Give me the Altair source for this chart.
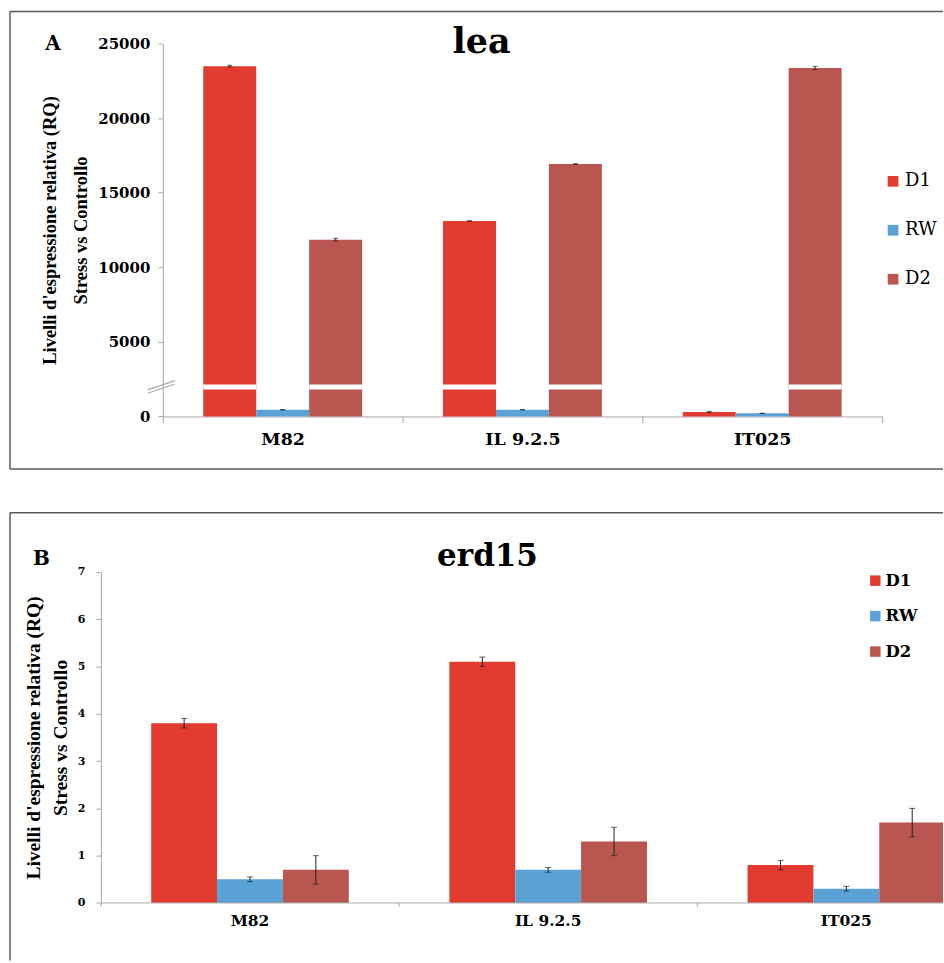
import altair as alt
import pandas as pd

# ---- data -------------------------------------------------------------
groups = ["M82", "IL 9.2.5", "IT025"]
conditions = ["D1", "RW", "D2"]
colors = ["#E23B30", "#5AA2D6", "#B9564F"]

# lea expression (RQ), one value per genotype
lea_d1 = [23480, 13100, 300]
lea_rw = [450, 450, 210]
lea_d2 = [11850, 16920, 23350]
lea_d1_err = [60, 15, 40]
lea_rw_err = [10, 10, 10]
lea_d2_err = [90, 15, 110]
lea_ticks = [0, 5000, 10000, 15000, 20000, 25000]

# erd15 expression (RQ)
erd_d1 = [3.8, 5.1, 0.8]
erd_rw = [0.5, 0.7, 0.3]
erd_d2 = [0.7, 1.3, 1.7]
erd_d1_err = [0.1, 0.1, 0.1]
erd_rw_err = [0.05, 0.05, 0.05]
erd_d2_err = [0.3, 0.3, 0.3]
erd_ticks = [0, 1, 2, 3, 4, 5, 6, 7]

# broken-axis band on the lea scale
break_lo, break_hi = 1810, 2140

y_title = ["Livelli d'espressione relativa (RQ)", "Stress vs Controllo"]

WIDE_SERIF = "DejaVu Serif"
SERIF = "Liberation Serif"
AXIS_GREY = "#a8a8a8"
FRAME = "#5a5a5a"
INK = "#222222"


def long_table(d1, rw, d2, e1, e2, e3):
    rows = []
    for cond, vals, errs in zip(conditions, [d1, rw, d2], [e1, e2, e3]):
        for g, v, e in zip(groups, vals, errs):
            rows.append({"group": g, "cond": cond, "value": v, "err": e,
                         "lo": v - e, "hi": v + e})
    return pd.DataFrame(rows)


lea_df = long_table(lea_d1, lea_rw, lea_d2, lea_d1_err, lea_rw_err, lea_d2_err)
erd_df = long_table(erd_d1, erd_rw, erd_d2, erd_d1_err, erd_rw_err, erd_d2_err)


def one_row(**kw):
    if kw:
        return alt.Chart(pd.DataFrame({k: [v] for k, v in kw.items()}))
    return alt.Chart(pd.DataFrame({"k": [0]}))


def label(text, x, y, size):
    return one_row(t=text).mark_text(
        font=WIDE_SERIF, fontSize=size, fontWeight="bold", color="black",
        align="center", baseline="alphabetic").encode(
        x=alt.value(x), y=alt.value(y), text="t:N")


def hline(x0, x1, y, color=FRAME, w=1.5):
    return one_row().mark_rule(color=color, strokeWidth=w).encode(
        x=alt.value(x0), x2=alt.value(x1), y=alt.value(y))


def vline(x, y0, y1, color=FRAME, w=1.5):
    return one_row().mark_rule(color=color, strokeWidth=w).encode(
        x=alt.value(x), y=alt.value(y0), y2=alt.value(y1))


def encoders(ticks, ymax, height, x_font, y_font, y_title_size, title_x, line_h,
             label_pad_x, label_pad_y, draw_x_axis, x_range, y_offset=0):
    if draw_x_axis:
        x_axis = alt.Axis(title=None, labelAngle=0, grid=False, tickBand="extent",
                          domainColor=AXIS_GREY, tickColor=AXIS_GREY, tickSize=6,
                          labelFont=WIDE_SERIF, labelFontSize=x_font,
                          labelFontWeight="bold", labelColor="black",
                          labelPadding=label_pad_x)
    else:
        x_axis = None
    x_scale = alt.Scale(domain=groups, paddingInner=0, paddingOuter=0, range=x_range)

    def x_enc(band_pos=None):
        kw = dict(sort=groups, scale=x_scale, axis=x_axis)
        if band_pos is not None:
            kw["bandPosition"] = band_pos
        return alt.X("group:N", **kw)

    xo_enc = alt.XOffset(
        "cond:N", sort=conditions,
        scale=alt.Scale(domain=conditions, paddingInner=0, paddingOuter=0.764),
    )
    y_axis = alt.Axis(values=ticks, format="d", grid=False, title=y_title,
                      offset=y_offset,
                      titleFont=SERIF, titleFontSize=y_title_size, titleFontWeight="bold",
                      titleColor="black", titleLineHeight=line_h, titleAngle=-90,
                      titleX=title_x, titleY=height / 2, titleAlign="center",
                      titleBaseline="middle",
                      domainColor=AXIS_GREY, tickColor=AXIS_GREY, tickSize=5,
                      labelFont=WIDE_SERIF, labelFontSize=y_font, labelFontWeight="bold",
                      labelColor="black", labelPadding=label_pad_y)
    y_scale = alt.Scale(domain=[0, ymax], nice=False, zero=True)

    def y_enc(field):
        return alt.Y(field, scale=y_scale, axis=y_axis)

    return x_enc, xo_enc, y_enc


def bar_layers(df, x_enc, xo_enc, y_enc, legend, cap, clip=False):
    base = alt.Chart(df)
    bars = base.mark_bar(clip=clip).encode(
        x=x_enc(), xOffset=xo_enc, y=y_enc("value:Q"),
        color=alt.Color("cond:N", sort=conditions,
                        scale=alt.Scale(domain=conditions, range=colors),
                        legend=legend),
    )
    err = base.mark_rule(color=INK, strokeWidth=1).encode(
        x=x_enc(), xOffset=xo_enc, y=y_enc("lo:Q"), y2="hi:Q")
    cap_lo = base.mark_tick(color=INK, thickness=1, size=cap).encode(
        x=x_enc(), xOffset=xo_enc, y=y_enc("lo:Q"))
    cap_hi = base.mark_tick(color=INK, thickness=1, size=cap).encode(
        x=x_enc(), xOffset=xo_enc, y=y_enc("hi:Q"))
    return [bars, err, cap_lo, cap_hi]


# Both panels share the same left plot edge; the lea axis sits further in.
LEFT = -91          # frame position relative to the plot edge
RIGHT = 843         # right end of the frame lines

# ---- panel A: lea (broken axis) ---------------------------------------
SHIFT_A = 62
WA, HA = SHIFT_A + 720, 373.4
legend_a = alt.Legend(title=None, orient="none", legendX=SHIFT_A + 722, legendY=129,
                      symbolType="square", symbolSize=115, symbolStrokeWidth=0,
                      labelFont=WIDE_SERIF, labelFontSize=18, labelFontWeight="normal",
                      labelColor="black", rowPadding=31, labelOffset=3, padding=0)
xa, xoa, ya = encoders(lea_ticks, 25000, HA, 17.5, 15, 18.5, -113.5, 31, 8, 8, True,
                       x_range=[SHIFT_A, WA], y_offset=-SHIFT_A)
layers_a = bar_layers(lea_df, xa, xoa, ya, legend_a, 5)

# white gap across the bars that pass the break
gap_a = alt.Chart(lea_df).transform_filter(
    alt.datum.value > break_hi
).transform_calculate(
    b0=str(break_lo), b1=str(break_hi)
).mark_bar(color="white").encode(x=xa(), xOffset=xoa, y=ya("b0:Q"), y2="b1:Q")

# double slash on the y axis at the break
mid = (break_lo + break_hi) / 2
slash_df = pd.DataFrame({"s0": [mid - 420, mid - 190], "s1": [mid + 200, mid + 430]})
slash_a = alt.Chart(slash_df).mark_rule(color=AXIS_GREY, strokeWidth=1.2).encode(
    x=alt.value(SHIFT_A - 15), x2=alt.value(SHIFT_A + 12), y=ya("s0:Q"), y2="s1:Q")

chart_a = alt.layer(
    layers_a[0], gap_a, *layers_a[1:], slash_a,
    hline(LEFT, RIGHT, -32), vline(LEFT, -32, 426), hline(LEFT, RIGHT, 426),
    label("A", SHIFT_A - 110, 6.3, 20), label("lea", SHIFT_A + 319, 9.7, 35),
).properties(width=WA, height=HA)

# ---- panel B: erd15 ----------------------------------------------------
# the category scale runs past the right edge, so the plot is clipped there and
# the category labels / baseline are drawn as marks inside the visible width
WB, HB = 843, 331.4
BAND_B = 298.5
legend_b = alt.Legend(title=None, orient="none", legendX=767, legendY=0.5,
                      symbolType="square", symbolSize=110, symbolStrokeWidth=0,
                      labelFont=WIDE_SERIF, labelFontSize=16.5, labelFontWeight="bold",
                      labelColor="black", rowPadding=18.5, labelOffset=2, padding=0)
xb, xob, yb = encoders(erd_ticks, 7, HB, 15.5, 11, 19.5, -67, 27, 11, 11, False,
                       x_range=[0, 3 * BAND_B])
layers_b = bar_layers(erd_df, xb, xob, yb, legend_b, 6, clip=True)

cats_b = alt.Chart(pd.DataFrame({"group": groups}))
sep_b = cats_b.mark_rule(color=AXIS_GREY, strokeWidth=1).encode(
    x=xb(0), y=alt.value(HB), y2=alt.value(HB + 4))
names_b = cats_b.mark_text(
    font=WIDE_SERIF, fontSize=15.5, fontWeight="bold", color="black",
    align="center", baseline="top"
).encode(x=xb(), y=alt.value(HB + 11), text="group:N")

chart_b = alt.layer(
    *layers_b, hline(0, WB, HB, AXIS_GREY, 1), sep_b, names_b,
    hline(LEFT, RIGHT, -59.3), vline(LEFT, -59.3, 389),
    label("B", -59.5, -7.3, 20), label("erd15", 387, -5.6, 31),
).properties(width=WB, height=HB)

chart = alt.vconcat(chart_a, chart_b, spacing=41).resolve_scale(
    color="independent", xOffset="independent"
).resolve_legend(
    color="independent"
).properties(
    padding={"left": 9, "top": 10, "right": 0, "bottom": 0},
    background="white",
).configure_view(stroke=None)

chart.save("out.html", embed_options={"renderer": "svg", "actions": False})
